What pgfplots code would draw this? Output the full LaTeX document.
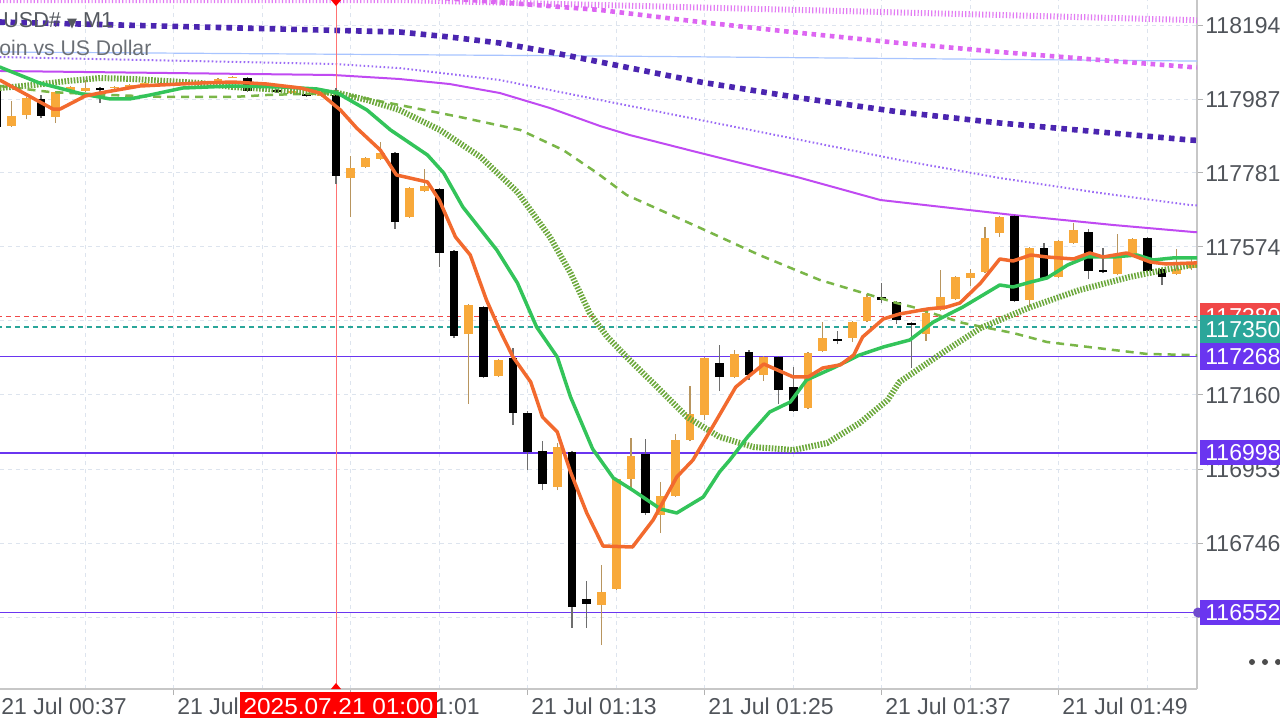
\documentclass[border=0pt]{standalone}
\usepackage{pgfplots}
\usepackage{pgfplotstable}
\pgfplotsset{compat=1.18}
\usepackage{fontspec}
\setmainfont{Liberation Sans}
\newfontfamily\dejavu{DejaVu Sans}
\newfontfamily\widefont[FakeStretch=1.06]{Liberation Sans}

\definecolor{candleOrange}{HTML}{F8A93A}
\definecolor{wickOrange}{HTML}{B8955E}
\definecolor{wickBlack}{HTML}{6E6E6E}
\definecolor{emaOrange}{HTML}{F26A2E}
\definecolor{emaGreen}{HTML}{33C45A}
\definecolor{olive}{HTML}{7AB648}
\definecolor{oliveDark}{HTML}{6CA83C}
\definecolor{magentaL}{HTML}{C04AF2}
\definecolor{thinPurple}{HTML}{9B6BF5}
\definecolor{indigoL}{HTML}{4B25B0}
\definecolor{lightBlue}{HTML}{A8C4FF}
\definecolor{pinkSq}{HTML}{DD66F2}
\definecolor{pinkHatch}{HTML}{E27CF3}
\definecolor{redLevel}{HTML}{F04848}
\definecolor{tealLevel}{HTML}{2BA69A}
\definecolor{purpleLevel}{HTML}{6A35F0}
\definecolor{gridc}{HTML}{DDE4EE}
\definecolor{labelgray}{HTML}{50545A}
\definecolor{titlegray}{HTML}{55595F}
\definecolor{subgray}{HTML}{6B6F75}

\pgfplotstableread{
i O H L C
-22 117912 117982 117909 117940
-21 117942 117993 117931 117990
-19 117937 118010 117920 118007
-18 118012 118024 118010 118021
-17 118010 118040 118007 118018
-15 118018 118024 118015 118021
-14 118021 118029 118018 118026
-13 118024 118035 118021 118032
-11 118026 118032 118024 118029
-10 118029 118038 118026 118035
-8 118032 118046 118029 118043
-7 118047 118051 118046 118049
-3 118004 118012 118001 118010
-1 117996 118004 117993 118001
1 117766 117828 117657 117794
2 117797 117825 117794 117822
3 117820 117867 117817 117836
5 117657 117741 117655 117738
6 117730 117792 117727 117744
9 117330 117414 117135 117411
11 117213 117261 117210 117258
15 116903 117026 116894 117015
18 116573 116685 116461 116609
19 116618 116928 116615 116925
20 116925 117040 116900 116989
22 116825 116917 116774 116878
23 116878 117051 116875 117034
24 117034 117185 117031 117107
25 117104 117266 117090 117263
27 117210 117286 117207 117275
29 117216 117269 117199 117266
32 117124 117280 117121 117277
33 117283 117364 117280 117319
35 117319 117367 117308 117364
36 117367 117442 117364 117434
40 117330 117392 117311 117389
41 117397 117509 117395 117434
42 117428 117493 117425 117490
43 117487 117512 117465 117501
44 117504 117629 117501 117599
45 117613 117660 117602 117657
47 117425 117574 117406 117571
49 117490 117593 117487 117590
50 117585 117641 117582 117621
53 117498 117610 117495 117543
54 117554 117599 117551 117596
57 117498 117568 117495 117512
58 117515 117543 117509 117529
}\bull

\pgfplotstableread{
i O H L C
-23 118026 118032 117906 117909
-20 117987 117998 117934 117940
-16 118018 118021 117976 118012
-12 118029 118032 118024 118026
-9 118035 118038 118029 118032
-6 118046 118049 118007 118010
-5 118029 118032 118021 118024
-4 118012 118015 118004 118007
-2 118001 118004 117993 117996
0 117998 118018 117750 117772
4 117836 117839 117624 117643
7 117736 117738 117518 117557
8 117562 117565 117319 117325
10 117406 117409 117207 117210
12 117263 117291 117076 117110
13 117110 117115 116950 117001
14 117003 117031 116894 116911
16 117001 117003 116509 116567
17 116590 116640 116509 116576
21 116995 117037 116825 116830
26 117249 117300 117171 117210
28 117280 117286 117202 117216
30 117266 117269 117135 117174
31 117182 117238 117112 117115
34 117316 117339 117302 117311
37 117434 117473 117417 117425
38 117420 117423 117358 117370
39 117361 117364 117235 117356
46 117660 117663 117420 117423
48 117571 117585 117481 117484
51 117616 117624 117484 117507
52 117509 117571 117501 117504
55 117599 117602 117504 117507
56 117512 117515 117467 117490
}\bear

\begin{document}
\begin{tikzpicture}
\useasboundingbox (0,0) rectangle (640pt,360pt);
\clip (0,0) rectangle (640pt,360pt);
\begin{axis}[
  at={(0pt,15.5pt)}, anchor=south west,
  scale only axis, width=598.5pt, height=344.5pt,
  xmin=-22.78, xmax=58.373, ymin=116338.1, ymax=118263.9,
  axis x line*=bottom, axis y line*=right,
  axis line style={draw=black!22, line width=0.8pt},
  xtick={-23,-11,1,13,25,37,49}, xticklabels={},
  minor xtick={-17,-5,7,19,31,43,55},
  ytick={116539,116746,116953,117160,117367,117574,117781,117987,118194},
  yticklabels={},
  grid=both,
  major grid style={draw=gridc, dash pattern=on 2pt off 2pt, line width=0.5pt},
  minor grid style={draw=gridc, dash pattern=on 2pt off 2pt, line width=0.5pt},
  tick align=outside, major tick length=3pt, minor tick length=0pt,
  tick style={draw=black!30, line width=0.5pt},
  clip mode=individual,
  line join=round,
]
% far moving averages
\addplot[pinkHatch, line width=3pt, dash pattern=on 0.6pt off 1.1pt] coordinates {
(-22.8,118263.9) (4.3,118263.9) (17.9,118249.9) (31.5,118236.0) (45.0,118222.0) (57.9,118208.0) (59,118206)};
\addplot[lightBlue, line width=0.6pt] coordinates {
(-22.8,118118.6) (17.9,118107.4) (57.9,118093.4) (59,118093)};
\addplot[pinkSq, line width=2.3pt, dash pattern=on 2.3pt off 2.3pt] coordinates {
(4.3,118277.9) (9.1,118263.9) (17.9,118236.0) (24.7,118202.4) (31.5,118171.7) (38.2,118143.7) (45.0,118118.6) (51.8,118096.2) (57.9,118076.6) (59,118074)};
\addplot[indigoL, line width=2.8pt, dash pattern=on 2.8pt off 2.6pt] coordinates {
(-22.8,118202.4) (4.3,118174.5) (7.7,118160.5) (11.1,118143.7) (14.5,118118.6) (17.9,118090.6) (21.3,118062.7) (24.7,118034.7) (31.5,117990.0) (38.2,117950.9) (45.0,117920.1) (51.8,117894.9) (57.9,117872.6) (59,117870)};
\addplot[thinPurple, line width=1pt, dash pattern=on 0.8pt off 1.2pt] coordinates {
(-22.8,118104.6) (-0.2,118085.0) (4.3,118073.8) (11.1,118040.3) (17.9,117984.4) (24.7,117928.5) (31.5,117872.6) (38.2,117816.7) (45.0,117766.4) (51.8,117724.5) (57.9,117690.9) (59,117688)};
\addplot[magentaL, line width=1pt] coordinates {
(-22.8,118065.5) (-11.5,118059.9) (-0.2,118054.3) (4.3,118043.1) (7.7,118029.1) (11.1,118004.0) (14.5,117962.0) (17.9,117911.7) (19.9,117886.6) (24.7,117836.3) (31.5,117766.4) (36.9,117704.9) (45.9,117663.0) (52.7,117635.0) (58.1,117615.5) (59,117613)};
% levels
\addplot[redLevel, line width=0.6pt, dash pattern=on 2.5pt off 2pt] coordinates {(-23,117380) (59,117380)};
\addplot[tealLevel, line width=0.6pt, dash pattern=on 2.5pt off 2pt] coordinates {(-23,117350) (59,117350)};
\addplot[purpleLevel, line width=0.8pt] coordinates {(-23,117268) (59,117268)};
\addplot[purpleLevel, line width=0.8pt] coordinates {(-23,116998) (59,116998)};
\addplot[purpleLevel, line width=0.8pt] coordinates {(-23,116552) (59,116552)};
\addplot[red!55, line width=0.5pt] coordinates {(0,116338.1) (0,118263.9)};
% candles: wicks
\addplot[draw=none, forget plot, error bars/.cd, y dir=plus, y explicit, error mark=none,
  error bar style={draw=wickOrange, line width=0.65pt, solid}]
  table[x=i, y=L, y error expr=\thisrow{H}-\thisrow{L}] {\bull};
\addplot[draw=none, forget plot, error bars/.cd, y dir=plus, y explicit, error mark=none,
  error bar style={draw=wickBlack, line width=0.65pt, solid}]
  table[x=i, y=L, y error expr=\thisrow{H}-\thisrow{L}] {\bear};
% candles: bodies
\addplot[draw=none, forget plot, error bars/.cd, y dir=plus, y explicit, error mark=none,
  error bar style={draw=candleOrange, line width=4.4pt, solid}]
  table[x=i, y=O, y error expr=\thisrow{C}-\thisrow{O}] {\bull};
\addplot[draw=none, forget plot, error bars/.cd, y dir=plus, y explicit, error mark=none,
  error bar style={draw=black, line width=4.4pt, solid}]
  table[x=i, y=C, y error expr=\thisrow{O}-\thisrow{C}] {\bear};
% near moving averages
\addplot[olive, line width=1.25pt, dash pattern=on 4pt off 3pt] coordinates {
(-22.8,118023.5) (-19.4,118006.8) (-15.3,117998.4) (-11.5,117992.8) (-7.0,117992.8) (-4.7,117998.4) (-2.4,118001.2) (0.1,118004.0) (4.3,117970.4) (8.4,117936.9) (12.5,117900.5) (15.4,117844.6) (17.7,117780.4) (19.7,117718.9) (24.7,117626.6) (28.7,117551.2) (32.8,117481.3) (36.2,117439.4) (38.0,117417.0) (39.1,117405.8) (42.5,117361.1) (45.9,117333.2) (48.2,117308.0) (51.6,117291.2) (55.0,117274.5) (58.1,117271.7) (59,117271)};
\addplot[oliveDark, line width=3pt, dash pattern=on 0.8pt off 0.75pt] coordinates {
(-22.8,118017.9) (-20.5,118026.3) (-18.2,118037.5) (-16.0,118045.9) (-13.8,118043.1) (-11.5,118037.5) (-9.2,118031.9) (-7.0,118020.7) (-4.7,118015.2) (-2.4,118006.8) (0.1,118004.0) (2.1,117984.4) (4.3,117956.4) (7.05,117900.5) (9.8,117825.1) (12.3,117727.3) (14.5,117601.5) (15.9,117500.9) (17.2,117389.0) (18.4,117322.0) (19.9,117257.7) (21.5,117193.4) (23.8,117098.4) (26.0,117042.5) (28.3,117014.5) (31.0,117006.1) (33.3,117025.7) (35.5,117081.6) (37.4,117145.9) (38.2,117196.2) (41.4,117285.6) (43.7,117347.1) (47.1,117405.8) (50.4,117453.3) (53.8,117489.7) (56.1,117509.2) (58.1,117523.2) (59,117526)};
\addplot[emaGreen, line width=1.75pt] coordinates {
(-22.8,118076.6) (-20.1,118031.9) (-17.2,118001.2) (-15.3,117987.2) (-14.0,117987.2) (-12.6,117998.4) (-10.4,118017.9) (-7.0,118023.5) (-3.6,118020.7) (-1.3,118015.2) (0.1,118004.0) (2.1,117956.4) (3.7,117900.5) (6.2,117830.7) (7.3,117780.4) (8.6,117685.3) (10.9,117565.2) (12.3,117472.9) (13.6,117349.9) (15.0,117266.1) (15.9,117154.3) (17.4,117008.9) (18.8,116927.9) (20.1,116894.3) (22.0,116841.2) (23.1,116830.1) (24.9,116874.8) (26.0,116944.7) (26.7,116978.2) (27.9,117042.5) (29.4,117112.4) (30.8,117140.3) (31.9,117201.8) (33.7,117235.3) (35.5,117271.7) (37.1,117294.0) (38.9,117313.6) (40.5,117363.9) (42.5,117405.8) (45.0,117467.3) (45.9,117461.7) (47.1,117475.7) (48.2,117486.9) (49.6,117523.2) (50.9,117545.6) (52.7,117545.6) (54.3,117551.2) (55.4,117537.2) (56.7,117542.8) (58.1,117542.8) (59,117543)};
\addplot[emaOrange, line width=1.75pt] coordinates {
(-22.8,118040.3) (-19.2,117959.2) (-18.7,117959.2) (-17.0,117995.6) (-16.0,118004.0) (-13.3,118023.5) (-9.2,118031.9) (-7.0,118034.7) (-4.7,118029.1) (-2.4,118017.9) (-1.1,118004.0) (0.3,117956.4) (1.4,117906.1) (3.0,117844.6) (4.1,117774.8) (6.2,117755.2) (7.0,117704.9) (8.1,117601.5) (9.1,117551.2) (10.2,117425.4) (11.1,117341.5) (12.0,117266.1) (13.2,117196.2) (14.0,117098.4) (15.0,117056.5) (15.9,116944.7) (17.0,116830.1) (18.1,116737.8) (20.1,116735.0) (21.5,116810.5) (23.1,116930.7) (24.2,116978.2) (25.8,117090.0) (27.1,117182.2) (29.0,117246.5) (31.0,117210.2) (32.0,117210.2) (33.0,117235.3) (34.2,117244.2) (35.1,117271.7) (35.7,117322.0) (37.1,117372.3) (38.2,117386.3) (40.1,117400.2) (41.4,117405.8) (42.3,117417.0) (43.7,117472.9) (45.0,117540.0) (45.9,117534.4) (47.1,117551.2) (48.2,117545.6) (50.0,117540.0) (51.1,117556.8) (52.0,117545.6) (53.6,117556.8) (55.2,117531.6) (56.3,117526.0) (58.1,117528.8) (59,117529)};
\end{axis}

\begin{scope}[x=0.5pt, y=-0.5pt, shift={(0pt,360pt)}]
% title
\node[anchor=base west, inner sep=0, text=titlegray, font=\fontsize{10.8pt}{12pt}\selectfont] at (3,27) {USD\# {\dejavu\fontsize{6.5pt}{9pt}\selectfont ▼} M1};
\node[anchor=base west, inner sep=0, text=subgray, font=\fontsize{10.6pt}{12pt}\selectfont] at (-1,55) {oin vs US Dollar};
% price labels
\foreach \yy/\tt in {25.0/118194, 99.1/117987, 172.8/117781., 246.8/117574, 394.9/117160, 469.0/116953, 543.0/116746}{
  \node[anchor=base west, inner sep=0, text=labelgray, font=\fontsize{11.5pt}{12pt}\selectfont] at (1205,\yy+8.2) {\tt};
}
% level boxes
\fill[purpleLevel!70!gray] (1198,612.5) circle (5);
\fill[redLevel] (1200,303) rectangle (1290,329);
\node[anchor=base west, inner sep=0, text=white, font=\fontsize{11.5pt}{12pt}\selectfont] at (1205,324.2) {117380};
\fill[tealLevel] (1200,315) rectangle (1290,343);
\node[anchor=base west, inner sep=0, text=white, font=\fontsize{11.5pt}{12pt}\selectfont] at (1205,337.2) {117350};
\fill[purpleLevel] (1200,343) rectangle (1290,370);
\node[anchor=base west, inner sep=0, text=white, font=\fontsize{11.5pt}{12pt}\selectfont] at (1205,364.7) {117268};
\fill[purpleLevel] (1200,440) rectangle (1290,465);
\node[anchor=base west, inner sep=0, text=white, font=\fontsize{11.5pt}{12pt}\selectfont] at (1205,460.7) {116998};
\fill[purpleLevel] (1200,600) rectangle (1290,625);
\node[anchor=base west, inner sep=0, text=white, font=\fontsize{11.5pt}{12pt}\selectfont] at (1205,620.7) {116552};
% dots
\foreach \xx in {1252,1265,1278} {\fill[black!70] (\xx,662) circle (3);}
% time labels
\foreach \xx/\tt in {1/21 Jul 00:37, 177/21 Jul 00:49, 354/21 Jul 01:01, 531/21 Jul 01:13, 708/21 Jul 01:25, 885/21 Jul 01:37, 1062/21 Jul 01:49}{
  \node[anchor=base west, inner sep=0, text=labelgray, font=\fontsize{11.5pt}{12pt}\selectfont] at (\xx,714) {\tt};
}
% red date box and markers
\fill[red] (240,692) rectangle (437,718);
\node[anchor=base, inner sep=0, text=white, font=\widefont\fontsize{11.5pt}{12pt}\selectfont] at (338.5,714) {2025.07.21 01:00};
\fill[red] (331,0) -- (341,0) -- (336,6) -- cycle;
\fill[red] (331,689) -- (341,689) -- (336,683) -- cycle;
\end{scope}
\end{tikzpicture}
\end{document}
